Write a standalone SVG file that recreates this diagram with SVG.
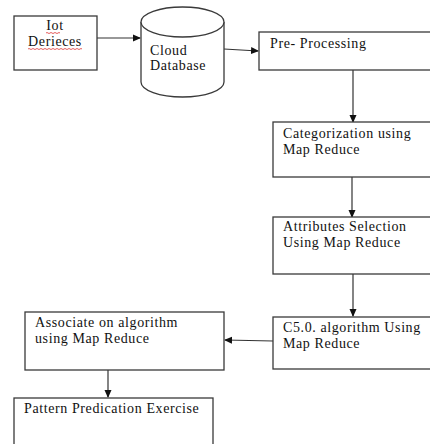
<svg xmlns="http://www.w3.org/2000/svg" width="430" height="444" viewBox="0 0 430 444">
<defs>
<style>
.box{fill:#fff;stroke:#3a3a3a;stroke-width:1.3}
.t{font-family:"Liberation Serif","Times New Roman",serif;font-size:14px;letter-spacing:0.6px;fill:#111}
.c{fill:none;stroke:#333;stroke-width:1.2}
.sq{fill:none;stroke:#d33;stroke-width:0.8}
</style>
<marker id="ah" markerWidth="8" markerHeight="8" refX="7" refY="4" orient="auto" markerUnits="userSpaceOnUse">
<path d="M0,0.5 L8,4 L0,7.5 Z" fill="#111"/>
</marker>
</defs>
<rect width="430" height="444" fill="#fff"/>
<g id="connectors">
<line class="c" x1="97" y1="38" x2="140" y2="38" marker-end="url(#ah)"/>
<line class="c" x1="224" y1="49" x2="258" y2="51" marker-end="url(#ah)"/>
<line class="c" x1="353" y1="70" x2="353" y2="122" marker-end="url(#ah)"/>
<line class="c" x1="352" y1="177" x2="352" y2="217" marker-end="url(#ah)"/>
<line class="c" x1="353" y1="274" x2="353" y2="316" marker-end="url(#ah)"/>
<line class="c" x1="273" y1="341" x2="225" y2="340" marker-end="url(#ah)"/>
<line class="c" x1="108" y1="370" x2="108" y2="397" marker-end="url(#ah)"/>
</g>
<g id="iot">
<rect class="box" x="14" y="16" width="83" height="54"/>
<text class="t" x="55" y="30" text-anchor="middle">Iot</text>
<text class="t" x="55" y="46" text-anchor="middle">Derieces</text>
<path class="sq" d="M46,33 q1,-1 2,0 t2,0 t2,0 t2,0 t2,0 t2,0 t2,0"/>
<path class="sq" d="M28,49 q1,-1 2,0 t2,0 t2,0 t2,0 t2,0 t2,0 t2,0 t2,0 t2,0 t2,0 t2,0 t2,0 t2,0 t2,0 t2,0 t2,0 t2,0 t2,0 t2,0 t2,0 t2,0 t2,0 t2,0 t2,0 t2,0 t2,0 t2,0"/>
</g>
<g id="cloud">
<path class="box" d="M141,22 L141,82 A41.5,15 0 0 0 224,82 L224,22 A41.5,15 0 0 0 141,22 Z"/>
<path class="box" d="M141,22 A41.5,15 0 0 0 224,22" fill="none"/>
<text class="t" x="150" y="55">Cloud</text>
<text class="t" x="150" y="70">Database</text>
</g>
<g id="preprocessing">
<rect class="box" x="259" y="32" width="180" height="38"/>
<text class="t" x="270" y="48">Pre- Processing</text>
</g>
<g id="categorization">
<rect class="box" x="273" y="122" width="170" height="55"/>
<text class="t" x="283" y="138">Categorization using</text>
<text class="t" x="283" y="154">Map Reduce</text>
</g>
<g id="attributes">
<rect class="box" x="273" y="217" width="170" height="57"/>
<text class="t" x="283" y="231">Attributes Selection</text>
<text class="t" x="283" y="247">Using Map Reduce</text>
</g>
<g id="c50">
<rect class="box" x="273" y="317" width="170" height="52"/>
<text class="t" x="283" y="332">C5.0. algorithm Using</text>
<text class="t" x="283" y="348">Map Reduce</text>
</g>
<g id="associate">
<rect class="box" x="25" y="312" width="199" height="58"/>
<text class="t" x="35" y="327">Associate on algorithm</text>
<text class="t" x="35" y="343">using Map Reduce</text>
</g>
<g id="pattern">
<rect class="box" x="14" y="398" width="199" height="60"/>
<text class="t" x="24" y="413">Pattern Predication Exercise</text>
</g>
</svg>
